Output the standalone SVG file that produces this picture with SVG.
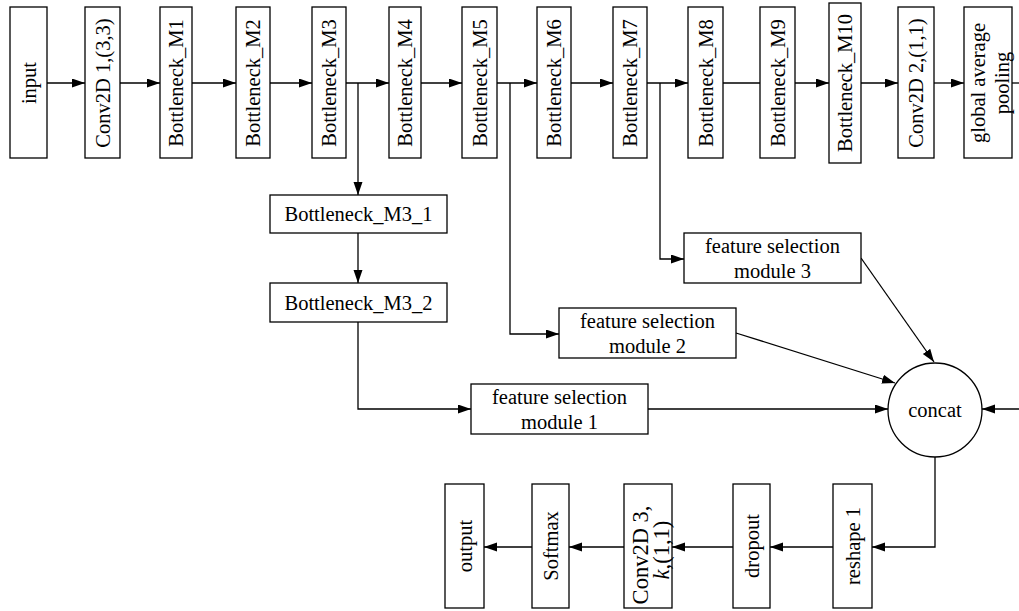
<svg xmlns="http://www.w3.org/2000/svg" width="1019" height="611" viewBox="0 0 1019 611">
<style>
.n{fill:#fff;stroke:#000;stroke-width:1.3}
.t{font-family:"Liberation Serif","Times New Roman",serif;font-size:20.5px;fill:#000;text-anchor:middle;dominant-baseline:central}
.e{fill:none;stroke:#000;stroke-width:1.3}
.a{marker-end:url(#ah)}
</style>
<defs>
<marker id="ah" markerUnits="userSpaceOnUse" markerWidth="13" markerHeight="10" refX="13" refY="4.5" orient="auto">
<path d="M0,0 L13,4.5 L0,9 z" fill="#000"/>
</marker>
</defs>
<rect width="1019" height="611" fill="#fff"/>
<g id="connectors">
<path class="e a" d="M47,83 H85"/>
<path class="e a" d="M120,83 H160"/>
<path class="e a" d="M192,83 H236"/>
<path class="e a" d="M270,83 H312"/>
<path class="e a" d="M346,83 H389"/>
<path class="e a" d="M421,83 H462"/>
<path class="e a" d="M497,83 H537"/>
<path class="e a" d="M571,83 H613"/>
<path class="e a" d="M647,83 H688"/>
<path class="e" d="M723,83 H760"/>
<path class="e a" d="M795,83 H829"/>
<path class="e a" d="M861,83 H898"/>
<path class="e a" d="M934,83 H964"/>
<path class="e" d="M1012,83 H1019"/>
<path class="e a" d="M358,83 V195"/>
<path class="e a" d="M358,233 V283"/>
<path class="e a" d="M358,322 V409 H471"/>
<path class="e a" d="M510,83 V334 H559"/>
<path class="e a" d="M660,83 V259 H684"/>
<path class="e a" d="M861,258 L934,362"/>
<path class="e a" d="M736,333 L895,383"/>
<path class="e a" d="M648,409 H888"/>
<path class="e a" d="M1019,409 H982"/>
<path class="e a" d="M935,457 V547 H872"/>
<path class="e a" d="M833,547 H770"/>
<path class="e a" d="M733,547 H672"/>
<path class="e a" d="M624,547 H569"/>
<path class="e a" d="M532,547 H484"/>
</g>
<g id="input"><rect class="n" x="10" y="7" width="37" height="151"/><text class="t" transform="translate(28.5,83) rotate(-90)">input</text></g>
<g id="conv2d1"><rect class="n" x="85" y="7" width="35" height="151"/><text class="t" transform="translate(102.5,83) rotate(-90)">Conv2D 1,(3,3)</text></g>
<g id="m1"><rect class="n" x="160" y="7" width="32" height="151"/><text class="t" transform="translate(176,83) rotate(-90)">Bottleneck_M1</text></g>
<g id="m2"><rect class="n" x="236" y="7" width="34" height="151"/><text class="t" transform="translate(253,83) rotate(-90)">Bottleneck_M2</text></g>
<g id="m3"><rect class="n" x="312" y="7" width="34" height="151"/><text class="t" transform="translate(329,83) rotate(-90)">Bottleneck_M3</text></g>
<g id="m4"><rect class="n" x="389" y="7" width="32" height="151"/><text class="t" transform="translate(405,83) rotate(-90)">Bottleneck_M4</text></g>
<g id="m5"><rect class="n" x="462" y="7" width="35" height="151"/><text class="t" transform="translate(479.5,83) rotate(-90)">Bottleneck_M5</text></g>
<g id="m6"><rect class="n" x="537" y="7" width="34" height="151"/><text class="t" transform="translate(554,83) rotate(-90)">Bottleneck_M6</text></g>
<g id="m7"><rect class="n" x="613" y="7" width="34" height="151"/><text class="t" transform="translate(630,83) rotate(-90)">Bottleneck_M7</text></g>
<g id="m8"><rect class="n" x="688" y="7" width="35" height="151"/><text class="t" transform="translate(705.5,83) rotate(-90)">Bottleneck_M8</text></g>
<g id="m9"><rect class="n" x="760" y="7" width="35" height="151"/><text class="t" transform="translate(777.5,83) rotate(-90)">Bottleneck_M9</text></g>
<g id="m10"><rect class="n" x="829" y="3" width="32" height="160"/><text class="t" transform="translate(845,83) rotate(-90)">Bottleneck_M10</text></g>
<g id="conv2d2"><rect class="n" x="898" y="7" width="36" height="151"/><text class="t" transform="translate(916,83) rotate(-90)">Conv2D 2,(1,1)</text></g>
<g id="gap"><rect class="n" x="964" y="7" width="48" height="151"/><text class="t" transform="translate(978,83) rotate(-90)">global average</text><text class="t" transform="translate(1002,83) rotate(-90)">pooling</text></g>
<g id="m3_1"><rect class="n" x="270" y="195" width="177" height="38"/><text class="t" x="358.5" y="214">Bottleneck_M3_1</text></g>
<g id="m3_2"><rect class="n" x="270" y="283" width="177" height="39"/><text class="t" x="358.5" y="302.5">Bottleneck_M3_2</text></g>
<g id="fsm1"><rect class="n" x="471" y="384" width="177" height="50"/><text class="t" x="559.5" y="396.5">feature selection</text><text class="t" x="559.5" y="422">module 1</text></g>
<g id="fsm2"><rect class="n" x="559" y="308" width="177" height="50"/><text class="t" x="647.5" y="320.5">feature selection</text><text class="t" x="647.5" y="346">module 2</text></g>
<g id="fsm3"><rect class="n" x="684" y="233" width="177" height="50"/><text class="t" x="772.5" y="245.5">feature selection</text><text class="t" x="772.5" y="271">module 3</text></g>
<g id="concat"><circle class="n" cx="935" cy="410" r="47"/><text class="t" x="935" y="410">concat</text></g>
<g id="reshape1"><rect class="n" x="833" y="484" width="39" height="124"/><text class="t" transform="translate(852.5,546) rotate(-90)">reshape 1</text></g>
<g id="dropout"><rect class="n" x="733" y="484" width="37" height="124"/><text class="t" transform="translate(751.5,546) rotate(-90)">dropout</text></g>
<g id="conv2d3"><rect class="n" x="624" y="484" width="48" height="124"/><text class="t" style="font-size:22.5px" transform="translate(640,555) rotate(-90)">Conv2D 3,</text><text class="t" style="font-size:22.5px" transform="translate(661,550) rotate(-90)"><tspan font-style="italic">k</tspan>,(1,1)</text></g>
<g id="softmax"><rect class="n" x="532" y="484" width="37" height="124"/><text class="t" transform="translate(550.5,546) rotate(-90)">Softmax</text></g>
<g id="output"><rect class="n" x="445" y="484" width="39" height="124"/><text class="t" transform="translate(464.5,546) rotate(-90)">output</text></g>
</svg>
